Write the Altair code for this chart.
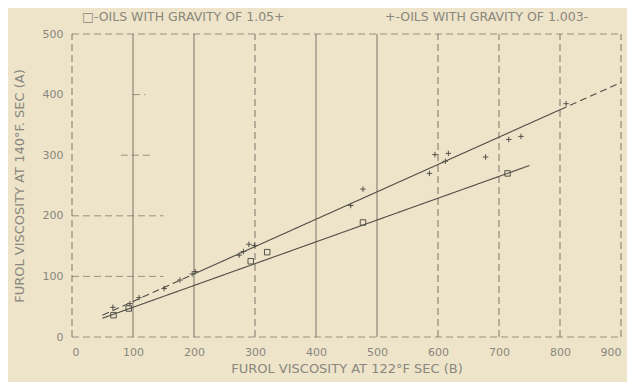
import altair as alt
import pandas as pd

# ---- data ----
x_ticks = [0, 100, 200, 300, 400, 500, 600, 700, 800, 900]
y_ticks = [0, 100, 200, 300, 400, 500]

# oils with gravity of 1.05+ (squares)
sq_x = [68, 93, 293, 320, 477, 714]
sq_y = [36, 47, 125, 140, 189, 270]

# oils with gravity of 1.003- (plus signs)
plus_x = [67, 95, 110, 151, 177, 197, 202, 274, 281, 290, 299, 457, 477,
          586, 595, 612, 617, 678, 716, 736, 810]
plus_y = [49, 55, 65, 80, 94, 104, 108, 135, 141, 153, 151, 217, 244,
          270, 301, 290, 303, 297, 326, 331, 385]

# fitted lines (segments)
fit_x1 = [50, 200, 800, 50]
fit_y1 = [36, 104, 375, 31]
fit_x2 = [200, 800, 900, 750]
fit_y2 = [104, 375, 420, 283]
fit_style = ["dash", "solid", "dash", "solid"]

# vertical grid lines
vgrid_style = ["dash", "solid", "solid", "dash", "solid", "solid", "dash", "dash", "dash", "dash"]

# horizontal grid segments
hg_y = [500, 0, 100, 200, 300, 400]
hg_x1 = [0, 0, 0, 0, 80, 100]
hg_x2 = [900, 900, 150, 150, 130, 120]
hg_style = ["dash", "dash", "dash", "dash", "dash", "dash"]

legend_left = "\u25a1-OILS WITH GRAVITY OF 1.05+"
legend_right = "+-OILS WITH GRAVITY OF 1.003-"

# ---- tables ----
sq_df = pd.DataFrame({"x": sq_x, "y": sq_y})
plus_df = pd.DataFrame({"x": plus_x, "y": plus_y})
fit_df = pd.DataFrame({"x": fit_x1, "y": fit_y1, "x2": fit_x2, "y2": fit_y2, "s": fit_style})
vg_df = pd.DataFrame({"x": x_ticks, "y": [0] * len(x_ticks), "y2": [500] * len(x_ticks), "s": vgrid_style})
hg_df = pd.DataFrame({"y": hg_y, "x": hg_x1, "x2": hg_x2, "s": hg_style})

FONT = "DejaVu Sans"
INK = "#5e5b52"
TXT = "#8a877c"

xs = alt.Scale(domain=[0, 900], nice=False, zero=False)
ys = alt.Scale(domain=[0, 500], nice=False, zero=False)
dash = alt.Scale(domain=["solid", "dash"], range=[[1, 0], [7, 4]])

xaxis = alt.Axis(values=x_ticks, grid=False, domain=False, ticks=False, labelPadding=9,
                 title="FUROL VISCOSITY AT 122\u00b0F SEC (B)", titlePadding=5)
yaxis = alt.Axis(values=y_ticks, grid=False, domain=False, ticks=False, labelPadding=9,
                 title="FUROL VISCOSITY AT 140\u00b0F. SEC (A)", titlePadding=16)

vgrid = alt.Chart(vg_df).mark_rule(color=INK, strokeWidth=1, opacity=0.8).encode(
    x=alt.X("x:Q", scale=xs, axis=xaxis),
    y=alt.Y("y:Q", scale=ys, axis=yaxis),
    y2="y2:Q",
    strokeDash=alt.StrokeDash("s:N", scale=dash, legend=None),
)

hgrid = alt.Chart(hg_df).mark_rule(color=INK, strokeWidth=1, opacity=0.6).encode(
    x=alt.X("x:Q", scale=xs),
    x2="x2:Q",
    y=alt.Y("y:Q", scale=ys),
    strokeDash=alt.StrokeDash("s:N", scale=dash, legend=None),
)

fits = alt.Chart(fit_df).mark_rule(color="#4f4c45", strokeWidth=1.1).encode(
    x=alt.X("x:Q", scale=xs),
    y=alt.Y("y:Q", scale=ys),
    x2="x2:Q",
    y2="y2:Q",
    strokeDash=alt.StrokeDash("s:N", scale=dash, legend=None),
)

squares = alt.Chart(sq_df).mark_point(shape="square", filled=False, size=30,
                                      color="#55524a", strokeWidth=1, opacity=1).encode(
    x=alt.X("x:Q", scale=xs),
    y=alt.Y("y:Q", scale=ys),
)

pluses = alt.Chart(plus_df).mark_point(shape="M-1,0H1M0,-1V1", filled=False, size=30,
                                       color="#55524a", strokeWidth=1, opacity=1).encode(
    x=alt.X("x:Q", scale=xs),
    y=alt.Y("y:Q", scale=ys),
)

leg1 = alt.Chart(pd.DataFrame({"t": [legend_left]})).mark_text(
    font=FONT, fontSize=12.5, color=TXT, align="left", baseline="middle"
).encode(text="t:N", x=alt.value(10), y=alt.value(-17))

leg2 = alt.Chart(pd.DataFrame({"t": [legend_right]})).mark_text(
    font=FONT, fontSize=12.5, color=TXT, align="left", baseline="middle"
).encode(text="t:N", x=alt.value(313), y=alt.value(-17))

chart = alt.layer(vgrid, hgrid, fits, squares, pluses, leg1, leg2).properties(
    width=549, height=303,
    autosize=alt.AutoSizeParams(type="none"),
    padding={"left": 64, "top": 26, "right": 6, "bottom": 45},
    background="#ede4ca",
).configure_view(stroke=None).configure_axis(
    labelFont=FONT, labelFontSize=11, labelColor=TXT,
    titleFont=FONT, titleFontSize=13, titleColor=TXT, titleFontWeight="normal",
)

chart.save("out.html", embed_options={"renderer": "svg", "actions": False})
